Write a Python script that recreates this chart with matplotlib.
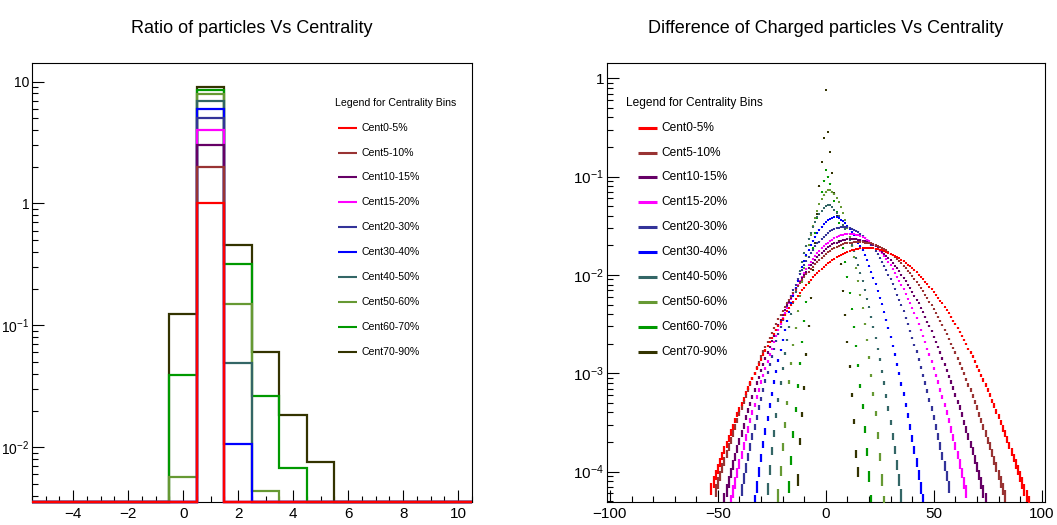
"""
Centrality comparison, two pads side by side:
  left  - ratio of particles per event, one step histogram per centrality bin
  right - difference of charged particles, normalised, one marker series per bin
"""

import numpy as np

import matplotlib
matplotlib.use("Agg")
import matplotlib.pyplot as plt  # noqa: E402
from matplotlib.lines import Line2D  # noqa: E402
from matplotlib.ticker import (  # noqa: E402
    FixedFormatter, FixedLocator, LogLocator, MultipleLocator, NullFormatter,
)

plt.rcParams["font.family"] = ["Liberation Sans", "DejaVu Sans"]
plt.rcParams["mathtext.fontset"] = "custom"
plt.rcParams["mathtext.rm"] = "Liberation Sans"
plt.rcParams["mathtext.it"] = "Liberation Sans"
plt.rcParams["mathtext.bf"] = "Liberation Sans"
plt.rcParams["axes.linewidth"] = 0.8

CENT_LABELS = [
    "Cent0-5%", "Cent5-10%", "Cent10-15%", "Cent15-20%", "Cent20-30%",
    "Cent30-40%", "Cent40-50%", "Cent50-60%", "Cent60-70%", "Cent70-90%",
]
CENT_COLORS = [
    "#ff0000", "#993333", "#660066", "#ff00ff", "#333399",
    "#0000ff", "#336666", "#669933", "#009900", "#333300",
]

# ---- left pad: ratio histograms, bins centred on -5 .. 10 ----
ratio_bin_centers = list(range(-5, 11))
ratio_cent0_5 = [0, 0, 0, 0, 0, 0, 1.0, 0, 0, 0, 0, 0, 0, 0, 0, 0]
ratio_cent5_10 = [0, 0, 0, 0, 0, 0, 2.0, 0, 0, 0, 0, 0, 0, 0, 0, 0]
ratio_cent10_15 = [0, 0, 0, 0, 0, 0, 3.0, 0, 0, 0, 0, 0, 0, 0, 0, 0]
ratio_cent15_20 = [0, 0, 0, 0, 0, 0, 4.0, 0, 0, 0, 0, 0, 0, 0, 0, 0]
ratio_cent20_30 = [0, 0, 0, 0, 0, 0, 5.0, 0, 0, 0, 0, 0, 0, 0, 0, 0]
ratio_cent30_40 = [0, 0, 0, 0, 0, 0, 6.0, 0.0106, 0, 0, 0, 0, 0, 0, 0, 0]
ratio_cent40_50 = [0, 0, 0, 0, 0, 0, 7.0, 0.0494, 0, 0, 0, 0, 0, 0, 0, 0]
ratio_cent50_60 = [0, 0, 0, 0, 0, 0.0057, 7.85, 0.150, 0.0044, 0, 0, 0, 0, 0, 0, 0]
ratio_cent60_70 = [0, 0, 0, 0, 0, 0.0394, 8.6, 0.319, 0.0263, 0.0067, 0, 0, 0, 0, 0, 0]
ratio_cent70_90 = [0, 0, 0, 0, 0, 0.125, 9.1, 0.458, 0.0608, 0.0185, 0.0075, 0, 0, 0, 0, 0]

# ---- right pad: log10 of normalised counts, one entry per integer difference ----
diff_cent0_5_start = -53
diff_cent0_5_log10 = [
    -4.17, -4.10, -4.03, -3.97, -3.90, -3.84, -3.78, -3.72, -3.66, -3.60,
    -3.54, -3.48, -3.42, -3.37, -3.31, -3.26, -3.20, -3.15, -3.10, -3.05,
    -3.00, -2.95, -2.91, -2.86, -2.81, -2.77, -2.72, -2.68, -2.64, -2.60,
    -2.56, -2.52, -2.48, -2.45, -2.41, -2.37, -2.34, -2.31, -2.27, -2.24,
    -2.21, -2.18, -2.15, -2.13, -2.10, -2.07, -2.05, -2.02, -2.00, -1.98,
    -1.96, -1.94, -1.92, -1.90, -1.88, -1.87, -1.85, -1.84, -1.82, -1.81,
    -1.80, -1.79, -1.78, -1.77, -1.76, -1.75, -1.75, -1.74, -1.74, -1.73,
    -1.73, -1.73, -1.73, -1.73, -1.73, -1.73, -1.74, -1.74, -1.75, -1.75,
    -1.76, -1.77, -1.78, -1.79, -1.80, -1.81, -1.82, -1.83, -1.85, -1.86,
    -1.88, -1.90, -1.91, -1.93, -1.95, -1.97, -2.00, -2.02, -2.04, -2.07,
    -2.09, -2.12, -2.14, -2.17, -2.20, -2.23, -2.26, -2.29, -2.33, -2.36,
    -2.39, -2.43, -2.47, -2.50, -2.54, -2.58, -2.62, -2.66, -2.70, -2.75,
    -2.79, -2.83, -2.88, -2.93, -2.97, -3.02, -3.07, -3.12, -3.17, -3.22,
    -3.28, -3.33, -3.39, -3.44, -3.50, -3.56, -3.61, -3.67, -3.73, -3.80,
    -3.86, -3.92, -3.98, -4.05, -4.11, -4.18, -4.25, -4.32,
]
diff_cent5_10_start = -51
diff_cent5_10_log10 = [
    -4.19, -4.11, -4.04, -3.96, -3.89, -3.82, -3.75, -3.68, -3.61, -3.54,
    -3.48, -3.41, -3.35, -3.29, -3.23, -3.17, -3.11, -3.05, -3.00, -2.94,
    -2.89, -2.83, -2.78, -2.73, -2.68, -2.64, -2.59, -2.54, -2.50, -2.45,
    -2.41, -2.37, -2.33, -2.29, -2.25, -2.22, -2.18, -2.15, -2.11, -2.08,
    -2.05, -2.02, -1.99, -1.97, -1.94, -1.92, -1.89, -1.87, -1.85, -1.83,
    -1.81, -1.79, -1.77, -1.76, -1.74, -1.73, -1.72, -1.71, -1.70, -1.69,
    -1.68, -1.67, -1.67, -1.67, -1.66, -1.66, -1.66, -1.66, -1.66, -1.67,
    -1.67, -1.67, -1.68, -1.69, -1.70, -1.71, -1.72, -1.73, -1.74, -1.75,
    -1.77, -1.79, -1.80, -1.82, -1.84, -1.86, -1.88, -1.91, -1.93, -1.96,
    -1.98, -2.01, -2.04, -2.07, -2.10, -2.13, -2.16, -2.20, -2.23, -2.27,
    -2.31, -2.35, -2.39, -2.43, -2.47, -2.51, -2.56, -2.60, -2.65, -2.70,
    -2.74, -2.79, -2.85, -2.90, -2.95, -3.00, -3.06, -3.12, -3.17, -3.23,
    -3.29, -3.35, -3.42, -3.48, -3.54, -3.61, -3.68, -3.74, -3.81, -3.88,
    -3.95, -4.03, -4.10, -4.17, -4.25,
]
diff_cent10_15_start = -47
diff_cent10_15_log10 = [
    -4.28, -4.19, -4.10, -4.01, -3.93, -3.85, -3.77, -3.69, -3.61, -3.53,
    -3.45, -3.38, -3.31, -3.24, -3.17, -3.10, -3.04, -2.97, -2.91, -2.85,
    -2.79, -2.73, -2.67, -2.62, -2.56, -2.51, -2.46, -2.41, -2.36, -2.31,
    -2.27, -2.23, -2.18, -2.14, -2.11, -2.07, -2.03, -2.00, -1.97, -1.93,
    -1.90, -1.88, -1.85, -1.82, -1.80, -1.78, -1.76, -1.74, -1.72, -1.71,
    -1.69, -1.68, -1.67, -1.66, -1.65, -1.64, -1.64, -1.63, -1.63, -1.63,
    -1.63, -1.63, -1.64, -1.64, -1.65, -1.65, -1.66, -1.67, -1.69, -1.70,
    -1.71, -1.73, -1.75, -1.77, -1.79, -1.81, -1.83, -1.85, -1.88, -1.91,
    -1.93, -1.96, -2.00, -2.03, -2.06, -2.10, -2.13, -2.17, -2.21, -2.25,
    -2.29, -2.34, -2.38, -2.43, -2.48, -2.52, -2.57, -2.63, -2.68, -2.73,
    -2.79, -2.85, -2.91, -2.97, -3.03, -3.09, -3.15, -3.22, -3.29, -3.35,
    -3.42, -3.50, -3.57, -3.64, -3.72, -3.79, -3.87, -3.95, -4.03, -4.11,
    -4.20, -4.28,
]
diff_cent15_20_start = -44
diff_cent15_20_log10 = [
    -4.30, -4.20, -4.11, -4.01, -3.92, -3.83, -3.74, -3.65, -3.57, -3.48,
    -3.40, -3.32, -3.24, -3.17, -3.09, -3.02, -2.95, -2.88, -2.81, -2.75,
    -2.68, -2.62, -2.56, -2.50, -2.44, -2.39, -2.34, -2.29, -2.24, -2.19,
    -2.14, -2.10, -2.06, -2.02, -1.98, -1.94, -1.90, -1.87, -1.84, -1.81,
    -1.78, -1.76, -1.73, -1.71, -1.69, -1.67, -1.65, -1.64, -1.62, -1.61,
    -1.60, -1.59, -1.59, -1.58, -1.58, -1.58, -1.58, -1.58, -1.59, -1.59,
    -1.60, -1.61, -1.62, -1.64, -1.65, -1.67, -1.69, -1.71, -1.73, -1.76,
    -1.78, -1.81, -1.84, -1.87, -1.90, -1.94, -1.98, -2.02, -2.06, -2.10,
    -2.14, -2.19, -2.24, -2.29, -2.34, -2.39, -2.44, -2.50, -2.56, -2.62,
    -2.68, -2.75, -2.81, -2.88, -2.95, -3.02, -3.09, -3.17, -3.24, -3.32,
    -3.40, -3.48, -3.57, -3.65, -3.74, -3.83, -3.92, -4.01, -4.11, -4.20,
]
diff_cent20_30_start = -39
diff_cent20_30_log10 = [
    -4.18, -4.07, -3.96, -3.85, -3.75, -3.64, -3.54, -3.45, -3.35, -3.26,
    -3.17, -3.08, -2.99, -2.91, -2.83, -2.75, -2.67, -2.60, -2.53, -2.46,
    -2.39, -2.33, -2.27, -2.21, -2.15, -2.10, -2.04, -1.99, -1.95, -1.90,
    -1.86, -1.82, -1.78, -1.75, -1.71, -1.68, -1.66, -1.63, -1.61, -1.59,
    -1.57, -1.55, -1.54, -1.53, -1.52, -1.52, -1.51, -1.51, -1.51, -1.51,
    -1.52, -1.53, -1.54, -1.55, -1.56, -1.58, -1.60, -1.62, -1.64, -1.67,
    -1.70, -1.73, -1.76, -1.79, -1.83, -1.87, -1.91, -1.95, -2.00, -2.04,
    -2.09, -2.14, -2.20, -2.25, -2.31, -2.37, -2.44, -2.50, -2.57, -2.64,
    -2.71, -2.78, -2.86, -2.94, -3.02, -3.10, -3.18, -3.27, -3.36, -3.45,
    -3.54, -3.64, -3.74, -3.84, -3.94, -4.04, -4.15,
]
diff_cent30_40_start = -33
diff_cent30_40_log10 = [
    -4.30, -4.15, -4.00, -3.86, -3.72, -3.59, -3.46, -3.33, -3.21, -3.09,
    -2.98, -2.87, -2.76, -2.66, -2.56, -2.47, -2.38, -2.29, -2.21, -2.13,
    -2.06, -1.99, -1.92, -1.86, -1.80, -1.75, -1.70, -1.65, -1.61, -1.57,
    -1.54, -1.51, -1.48, -1.46, -1.44, -1.43, -1.42, -1.41, -1.41, -1.42,
    -1.44, -1.45, -1.47, -1.50, -1.53, -1.56, -1.59, -1.63, -1.67, -1.71,
    -1.75, -1.80, -1.85, -1.91, -1.97, -2.03, -2.09, -2.16, -2.23, -2.30,
    -2.38, -2.46, -2.54, -2.63, -2.72, -2.81, -2.91, -3.00, -3.11, -3.21,
    -3.32, -3.43, -3.54, -3.66, -3.78, -3.90, -4.03, -4.16, -4.29,
]
diff_cent40_50_start = -27
diff_cent40_50_log10 = [
    -4.17, -3.98, -3.79, -3.61, -3.43, -3.27, -3.10, -2.95, -2.80, -2.66,
    -2.53, -2.40, -2.28, -2.17, -2.06, -1.96, -1.87, -1.78, -1.71, -1.63,
    -1.57, -1.51, -1.46, -1.41, -1.38, -1.35, -1.32, -1.30, -1.29, -1.29,
    -1.31, -1.34, -1.37, -1.40, -1.44, -1.49, -1.53, -1.58, -1.64, -1.70,
    -1.76, -1.83, -1.90, -1.98, -2.06, -2.15, -2.24, -2.33, -2.43, -2.53,
    -2.64, -2.75, -2.86, -2.98, -3.10, -3.23, -3.36, -3.50, -3.64, -3.78,
    -3.93, -4.08, -4.24,
]
diff_cent50_60_start = -22
diff_cent50_60_log10 = [
    -4.24, -3.99, -3.75, -3.52, -3.30, -3.09, -2.90, -2.71, -2.54, -2.37,
    -2.21, -2.07, -1.93, -1.81, -1.70, -1.59, -1.50, -1.42, -1.35, -1.28,
    -1.23, -1.19, -1.16, -1.14, -1.14, -1.16, -1.18, -1.22, -1.26, -1.31,
    -1.37, -1.44, -1.52, -1.61, -1.71, -1.82, -1.93, -2.06, -2.20, -2.34,
    -2.50, -2.66, -2.84, -3.02, -3.21, -3.41, -3.63, -3.85, -4.08, -4.32,
]
diff_cent60_70_start = -17
diff_cent60_70_log10 = [
    -4.15, -3.88, -3.62, -3.37, -3.13, -2.90, -2.68, -2.47, -2.27, -2.08,
    -1.90, -1.73, -1.57, -1.42, -1.28, -1.16, -1.04, -0.93, -1.00, -1.07,
    -1.16, -1.25, -1.36, -1.47, -1.59, -1.73, -1.87, -2.02, -2.18, -2.35,
    -2.53, -2.72, -2.92, -3.13, -3.34, -3.57, -3.80, -4.05, -4.30,
]
diff_cent70_90_start = -13
diff_cent70_90_log10 = [
    -4.08, -3.69, -3.42, -3.15, -2.81, -2.52, -2.23, -1.95, -1.68, -1.38,
    -1.10, -0.85, -0.61, -0.12, -0.55, -0.75, -0.96, -1.17, -1.40, -1.65,
    -1.89, -2.16, -2.41, -2.68, -2.93, -3.22, -3.49, -3.82, -4.00,
]

# events per centrality bin, used for the Poisson error bars
N_EVENTS = 7.0e5

RATIO_YLIM = (3.57e-3, 14.3)
DIFF_YLIM = (4.95e-5, 1.44)


def _style_axes(ax, labelsize=11):
    ax.tick_params(which="both", direction="in", top=False, right=False,
                   width=0.8, labelsize=labelsize)
    ax.tick_params(axis="x", pad=4)
    ax.tick_params(axis="y", pad=2)
    ax.tick_params(which="major", length=8.6)
    ax.tick_params(which="minor", length=4.3)
    for sp in ax.spines.values():
        sp.set_linewidth(0.8)


def _draw_legend(ax, header_xy, line_x, text_x, y_top, step, fontsize, lw):
    ax.text(header_xy[0], header_xy[1], "Legend for Centrality Bins",
            transform=ax.transAxes, fontsize=fontsize, ha="left", va="center")
    for i, (label, color) in enumerate(zip(CENT_LABELS, CENT_COLORS)):
        y = y_top - i * step
        ax.add_line(Line2D(line_x, [y, y], transform=ax.transAxes,
                           color=color, lw=lw, solid_capstyle="butt"))
        ax.text(text_x, y, label, transform=ax.transAxes,
                fontsize=fontsize, ha="left", va="center")


def _log_labels(values):
    out = []
    for v in values:
        e = int(round(np.log10(v)))
        if e == 0:
            out.append("1")
        elif e == 1:
            out.append("10")
        else:
            out.append(r"$10^{%d}$" % e)
    return out


def plot_ratio(ax):
    series = [
        ratio_cent0_5, ratio_cent5_10, ratio_cent10_15, ratio_cent15_20,
        ratio_cent20_30, ratio_cent30_40, ratio_cent40_50, ratio_cent50_60,
        ratio_cent60_70, ratio_cent70_90,
    ]
    centers = np.asarray(ratio_bin_centers, dtype=float)
    edges = np.append(centers - 0.5, centers[-1] + 0.5)
    for i, (vals, color) in enumerate(zip(series, CENT_COLORS)):
        v = np.asarray(vals, dtype=float)
        # empty bins sit on the bottom of the frame, as ROOT draws them
        v = np.where(v > 0, v, RATIO_YLIM[0])
        ax.stairs(v, edges, baseline=None, color=color, lw=1.6,
                  zorder=20 - i, clip_on=False)

    ax.set_yscale("log")
    ax.set_xlim(edges[0], edges[-1])
    ax.set_ylim(*RATIO_YLIM)
    ax.xaxis.set_major_locator(MultipleLocator(2))
    ax.xaxis.set_minor_locator(MultipleLocator(0.5))
    yt = [1e-2, 1e-1, 1, 10]
    ax.yaxis.set_major_locator(FixedLocator(yt))
    ax.yaxis.set_major_formatter(FixedFormatter(_log_labels(yt)))
    ax.yaxis.set_minor_locator(LogLocator(base=10, subs=np.arange(2, 10)))
    ax.yaxis.set_minor_formatter(NullFormatter())
    _style_axes(ax)
    ax.tick_params(axis="y", labelsize=10)
    ax.text(0.5, 1.079, "Ratio of particles Vs Centrality", transform=ax.transAxes,
            ha="center", va="center", fontsize=13)
    _draw_legend(ax, (0.689, 0.909), (0.696, 0.739), 0.749, 0.852, 0.0567, 7.6, 1.5)


def plot_difference(ax):
    series = [
        (diff_cent0_5_start, diff_cent0_5_log10),
        (diff_cent5_10_start, diff_cent5_10_log10),
        (diff_cent10_15_start, diff_cent10_15_log10),
        (diff_cent15_20_start, diff_cent15_20_log10),
        (diff_cent20_30_start, diff_cent20_30_log10),
        (diff_cent30_40_start, diff_cent30_40_log10),
        (diff_cent40_50_start, diff_cent40_50_log10),
        (diff_cent50_60_start, diff_cent50_60_log10),
        (diff_cent60_70_start, diff_cent60_70_log10),
        (diff_cent70_90_start, diff_cent70_90_log10),
    ]
    for i, ((start, logs), color) in enumerate(zip(series, CENT_COLORS)):
        y = 10.0 ** np.asarray(logs)
        x = start + np.arange(len(y))
        err = np.sqrt(y / N_EVENTS)
        ax.errorbar(x, y, yerr=err, fmt="s", ms=2.1, mew=0, color=color,
                    ecolor=color, elinewidth=1.6, capsize=0, zorder=20 - i)

    ax.set_yscale("log")
    ax.set_xlim(-101.5, 101.5)
    ax.set_ylim(*DIFF_YLIM)
    ax.xaxis.set_major_locator(MultipleLocator(50))
    ax.xaxis.set_minor_locator(MultipleLocator(10))
    yt = [1e-4, 1e-3, 1e-2, 1e-1, 1]
    ax.yaxis.set_major_locator(FixedLocator(yt))
    ax.yaxis.set_major_formatter(FixedFormatter(_log_labels(yt)))
    ax.yaxis.set_minor_locator(LogLocator(base=10, subs=np.arange(2, 10)))
    ax.yaxis.set_minor_formatter(NullFormatter())
    _style_axes(ax)
    ax.text(0.5, 1.079, "Difference of Charged particles Vs Centrality",
            transform=ax.transAxes, ha="center", va="center", fontsize=13)
    _draw_legend(ax, (0.0434, 0.909), (0.072, 0.114), 0.124, 0.852, 0.0567, 8.6, 2.2)


def main():
    fig = plt.figure(figsize=(10.57, 5.25), dpi=100)
    ax_ratio = fig.add_axes([0.03027, 0.04438, 0.41627, 0.83619])
    ax_diff = fig.add_axes([0.57398, 0.04438, 0.41466, 0.83619])
    plot_ratio(ax_ratio)
    plot_difference(ax_diff)
    fig.savefig("out.png", dpi=100)
    plt.close(fig)


if __name__ == "__main__":
    main()
